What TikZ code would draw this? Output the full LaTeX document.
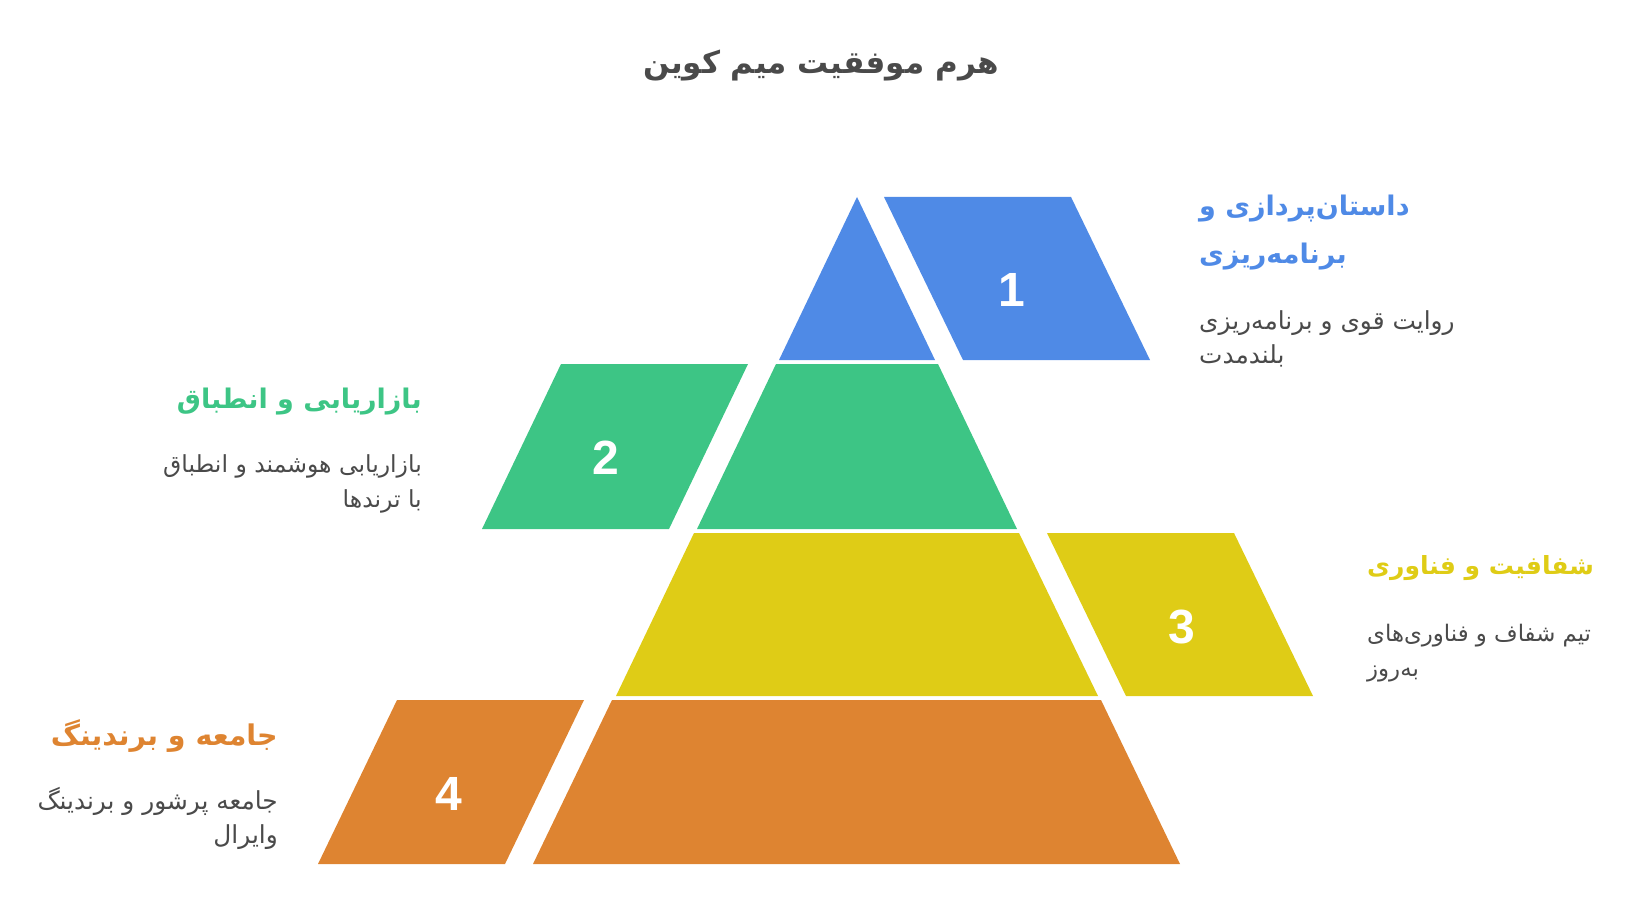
\documentclass[tikz,border=0pt]{standalone}
\usepackage{fontspec}
\TeXXeTstate=1
\newfontfamily\arabicfont[Script=Arabic]{DejaVu Sans}
\setmainfont{Liberation Sans}
\newcommand\rtl[1]{\beginR #1\endR}
\definecolor{cblue}{HTML}{4F8AE6}
\definecolor{cgreen}{HTML}{3DC585}
\definecolor{cyellow}{HTML}{DFCC16}
\definecolor{corange}{HTML}{DE8431}
\definecolor{ctext}{HTML}{4A4A4A}
\tikzset{
  layer/.style={fill=#1, draw=none},
  num/.style={text=white, font=\bfseries\fontsize{48}{48}\selectfont, inner sep=0pt},
  hsz/.style={font=\arabicfont\bfseries\fontsize{#1}{#1}\selectfont},
  dsz/.style={font=\arabicfont\fontsize{#1}{#1}\selectfont},
  head/.style={text=#1, hsz=27, inner sep=0pt},
  desc/.style={text=ctext, dsz=23.5, inner sep=0pt},
  ttl/.style={text=ctext, font=\arabicfont\bfseries\fontsize{31}{36}\selectfont, inner sep=0pt}
}
\begin{document}
\begin{tikzpicture}[x=1pt,y=-1pt]
\useasboundingbox (0,0) rectangle (1632,909);
% title
\node[ttl, anchor=base] (title) at (821,74) {\rtl{هرم موفقیت میم کوین}};
% layer 1
\fill[layer=cblue] (857,197) -- (935,360) -- (779,360) -- cycle;
\fill[layer=cblue] (884,197) -- (1071,197) -- (1150,360) -- (963,360) -- cycle;
% layer 2
\fill[layer=cgreen] (776,364) -- (938,364) -- (1017,529) -- (697,529) -- cycle;
\fill[layer=cgreen] (561,364) -- (748,364) -- (669,529) -- (482,529) -- cycle;
% layer 3
\fill[layer=cyellow] (694,533) -- (1019,533) -- (1098,696) -- (616,696) -- cycle;
\fill[layer=cyellow] (1047,533) -- (1234,533) -- (1313,696) -- (1126,696) -- cycle;
% layer 4
\fill[layer=corange] (612,700) -- (1101,700) -- (1180,864) -- (533,864) -- cycle;
\fill[layer=corange] (397,700) -- (584,700) -- (505,864) -- (318,864) -- cycle;
% numbers
\node[num] (n1) at (1012,290) {1};
\node[num] (n2) at (606,458) {2};
\node[num] (n3) at (1182,627) {3};
\node[num] (n4) at (449,794) {4};
% block 1
\node[head=cblue, anchor=base west] (h1a) at (1199,216) {\rtl{داستان‌پردازی و}};
\node[head=cblue, anchor=base west] (h1b) at (1199,263) {\rtl{برنامه‌ریزی}};
\node[desc, dsz=24.8, anchor=base west] (d1a) at (1199,329) {\rtl{روایت قوی و برنامه‌ریزی}};
\node[desc, dsz=24.8, anchor=base west] (d1b) at (1199,363) {\rtl{بلندمدت}};
% block 2
\node[head=cgreen, anchor=base east] (h2) at (422,408) {\rtl{بازاریابی و انطباق}};
\node[desc, anchor=base east] (d2a) at (422,472) {\rtl{بازاریابی هوشمند و انطباق}};
\node[desc, anchor=base east] (d2b) at (422,507) {\rtl{با ترندها}};
% block 3
\node[head=cyellow, hsz=25, anchor=base west] (h3) at (1367,574) {\rtl{شفافیت و فناوری}};
\node[desc, dsz=22.8, anchor=base west] (d3a) at (1367,641) {\rtl{تیم شفاف و فناوری‌های}};
\node[desc, dsz=22.8, anchor=base west] (d3b) at (1367,676) {\rtl{به‌روز}};
% block 4
\node[head=corange, hsz=28.5, anchor=base east] (h4) at (278,745) {\rtl{جامعه و برندینگ}};
\node[desc, dsz=24.8, anchor=base east] (d4a) at (278,809) {\rtl{جامعه پرشور و برندینگ}};
\node[desc, dsz=24.8, anchor=base east] (d4b) at (278,843) {\rtl{وایرال}};
\end{tikzpicture}
\end{document}
